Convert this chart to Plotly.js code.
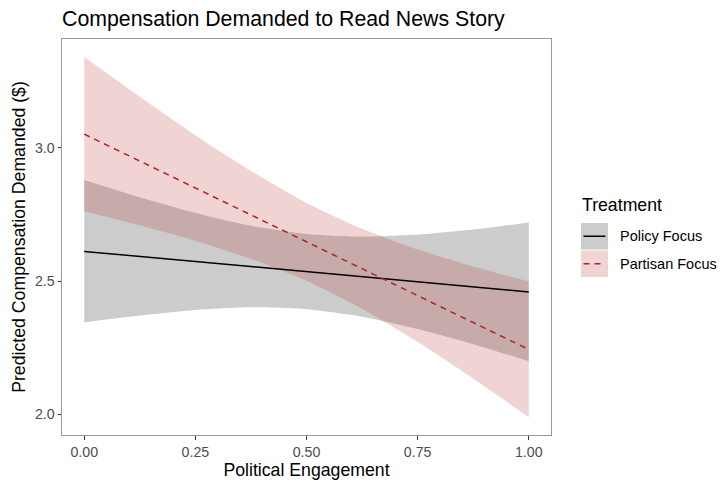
<!DOCTYPE html>
<html>
<head>
<meta charset="utf-8">
<script src="https://cdn.plot.ly/plotly-3.0.1.min.js"></script>
<style>html,body{margin:0;padding:0;background:#fff;}#chart{width:721px;height:481px;}</style>
</head>
<body>
<div id="chart"></div>
<script>
// Data
const engagement = [0, 0.125, 0.25, 0.375, 0.5, 0.625, 0.75, 0.875, 1];
const policyFit = [2.612, 2.593, 2.574, 2.555, 2.536, 2.517, 2.498, 2.479, 2.460];
const policyUpper = [2.880, 2.815, 2.756, 2.708, 2.677, 2.667, 2.675, 2.694, 2.720];
const policyLower = [2.345, 2.371, 2.392, 2.402, 2.395, 2.367, 2.321, 2.264, 2.200];
const partisanFit = [3.052, 2.951, 2.850, 2.749, 2.648, 2.547, 2.446, 2.345, 2.244];
const partisanUpper = [3.341, 3.192, 3.048, 2.914, 2.794, 2.697, 2.619, 2.555, 2.499];
const partisanLower = [2.763, 2.710, 2.652, 2.584, 2.502, 2.397, 2.273, 2.135, 1.990];
const seriesNames = ["Policy Focus", "Partisan Focus"];
const xTicks = [0, 0.25, 0.5, 0.75, 1];
const yTicks = [2.0, 2.5, 3.0];

const FONT = "Liberation Sans, Arial, Helvetica, sans-serif";
const greyFill = "rgba(0,0,0,0.2)";
const pinkFill = "rgba(178,34,34,0.2)";
const red = "#B22222";
const DASH = "6px,5px";

const band = (y, fill, fc) => ({
  x: engagement, y: y, type: "scatter", mode: "lines",
  line: {width: 0, shape: "spline", smoothing: 0.6},
  fill: fill, fillcolor: fc, showlegend: false, hoverinfo: "skip"
});

const traces = [
  band(policyUpper, "none", greyFill),
  band(policyLower, "tonexty", greyFill),
  band(partisanUpper, "none", pinkFill),
  band(partisanLower, "tonexty", pinkFill),
  {x: engagement, y: policyFit, type: "scatter", mode: "lines", name: seriesNames[0],
   line: {color: "#000000", width: 1.5}, showlegend: false},
  {x: engagement, y: partisanFit, type: "scatter", mode: "lines", name: seriesNames[1],
   line: {color: red, width: 1.5, dash: DASH}, showlegend: false}
];

// page geometry
const W = 721, H = 481;
const M = {l: 62, r: 170, t: 39, b: 46};
const PW = W - M.l - M.r, PH = H - M.t - M.b;
const px = v => (v - M.l) / PW, py = v => (H - M.b - v) / PH;

// manual legend in ggplot style
const legX0 = 581, legW = 27, keyH = 27.5, legY0 = 222.5;
const shapes = [];
const annotations = [];
const keyFills = [greyFill, pinkFill];
const keyLines = [{color: "#000", width: 1.5, dash: "solid"}, {color: red, width: 1.5, dash: DASH}];
seriesNames.forEach((nm, i) => {
  const top = legY0 + i * keyH;
  shapes.push({type: "rect", xref: "paper", yref: "paper", layer: "above",
    x0: px(legX0), x1: px(legX0 + legW), y0: py(top + keyH - 0.5), y1: py(top + 0.5),
    fillcolor: keyFills[i], line: {width: 0}});
  shapes.push({type: "line", xref: "paper", yref: "paper", layer: "above",
    x0: px(legX0 + 2.5), x1: px(legX0 + legW - 2.5), y0: py(top + keyH / 2), y1: py(top + keyH / 2),
    line: keyLines[i]});
  annotations.push({text: nm, xref: "paper", yref: "paper", x: px(legX0 + legW + 10), y: py(top + keyH / 2),
    xanchor: "left", yanchor: "middle", showarrow: false, font: {family: FONT, size: 14.5, color: "#000"}});
});
annotations.push({text: "Treatment", xref: "paper", yref: "paper", x: px(legX0 - 1), y: py(205),
  xanchor: "left", yanchor: "middle", showarrow: false, font: {family: FONT, size: 17.7, color: "#000"}});

const layout = {
  width: W, height: H,
  margin: {l: M.l, r: M.r, t: M.t, b: M.b, pad: 0},
  paper_bgcolor: "#fff", plot_bgcolor: "#fff",
  font: {family: FONT},
  title: {text: "Compensation Demanded to Read News Story", xref: "container", yref: "container",
    x: 62 / W, xanchor: "left", y: 1 - 19 / H, yanchor: "middle",
    font: {family: FONT, size: 21.3, color: "#000"}},
  xaxis: {range: [-0.05, 1.05], tickvals: xTicks, tickformat: ".2f",
    ticks: "outside", ticklen: 3.5, tickwidth: 1, tickcolor: "#333",
    showline: true, linecolor: "#999", linewidth: 1, mirror: true,
    showgrid: false, zeroline: false,
    tickfont: {family: FONT, size: 14.2, color: "#4d4d4d"},
    title: {text: "Political Engagement", standoff: 1, font: {family: FONT, size: 17.7, color: "#000"}}},
  yaxis: {range: [1.923, 3.409], tickvals: yTicks, tickformat: ".1f",
    ticks: "outside", ticklen: 3.5, tickwidth: 1, tickcolor: "#333",
    showline: true, linecolor: "#999", linewidth: 1, mirror: true,
    showgrid: false, zeroline: false,
    tickfont: {family: FONT, size: 14.2, color: "#4d4d4d"},
    title: {text: "Predicted Compensation Demanded ($)", standoff: 4, font: {family: FONT, size: 17.7, color: "#000"}}},
  shapes: shapes,
  annotations: annotations,
  showlegend: false
};

Plotly.newPlot("chart", traces, layout, {displayModeBar: false, staticPlot: true});
</script>
</body>
</html>
